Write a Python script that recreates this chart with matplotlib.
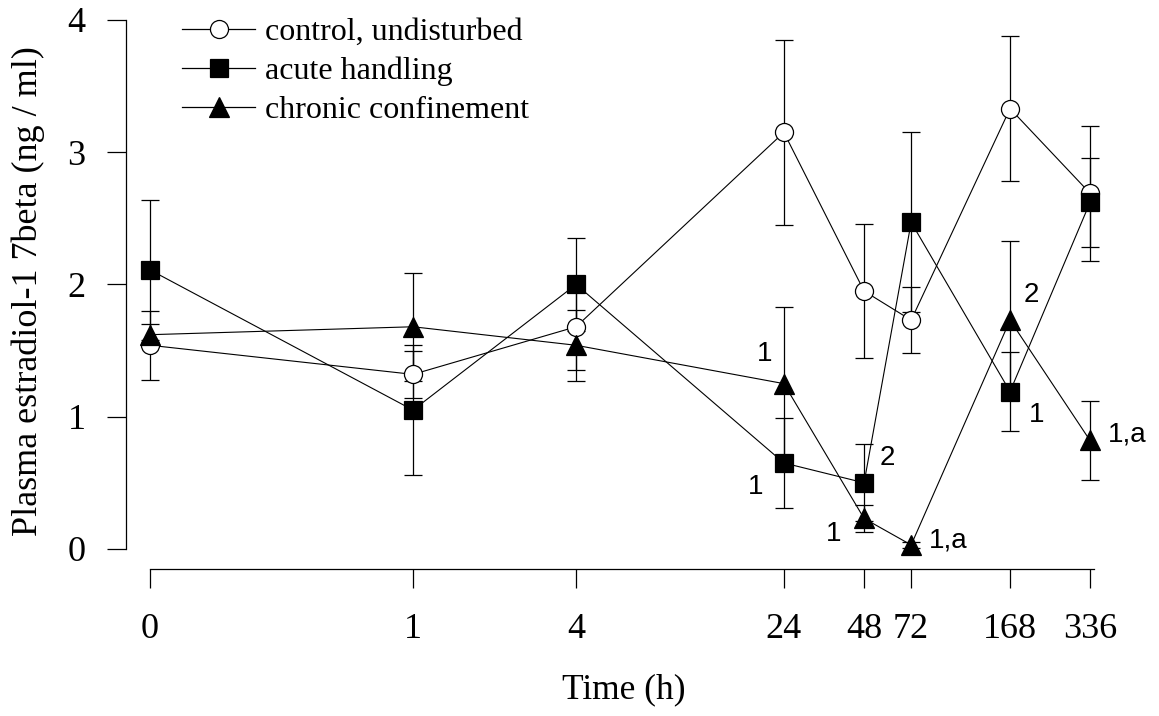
import matplotlib
matplotlib.use('Agg')
import matplotlib.pyplot as plt
from matplotlib.lines import Line2D

# x positions on the (non-linear) time axis
times = ['0', '1', '4', '24', '48', '72', '168', '336']
x_pos = [0, 1, 1.62, 2.41, 2.715, 2.894, 3.27, 3.574]

control = [1.54, 1.32, 1.68, 3.15, 1.95, 1.73, 3.33, 2.69]
control_se = [0.26, 0.18, 0.33, 0.70, 0.51, 0.25, 0.55, 0.51]
acute = [2.11, 1.05, 2.00, 0.65, 0.50, 2.47, 1.19, 2.62]
acute_se = [0.53, 0.49, 0.35, 0.34, 0.29, 0.68, 0.30, 0.34]
chronic = [1.62, 1.68, 1.54, 1.25, 0.23, 0.03, 1.73, 0.82]
chronic_se = [0.08, 0.41, 0.27, 0.58, 0.10, 0.02, 0.60, 0.30]

# significance labels: (series, time index, text, dx pt, dy pt, ha)
sig_labels = [
    ('chronic', 3, '1', -14, 21, 'center'),
    ('acute', 3, '1', -20, -17, 'center'),
    ('chronic', 4, '1', -22, -11, 'center'),
    ('acute', 4, '2', 17, 18, 'center'),
    ('chronic', 5, '1,a', 13, 3, 'left'),
    ('chronic', 6, '2', 15, 18, 'center'),
    ('acute', 6, '1', 19, -17, 'center'),
    ('chronic', 7, '1,a', 13, 4, 'left'),
]

plt.rcParams['font.family'] = 'Liberation Serif'

W, H = 1159, 716
fig = plt.figure(figsize=(W / 100, H / 100), dpi=100)
ax = fig.add_axes([126 / W, 1 - 569 / H, 974 / W, 549 / H])

series = {
    'control': (control, control_se, 'o', 'white', 'control, undisturbed'),
    'acute': (acute, acute_se, 's', 'black', 'acute handling'),
    'chronic': (chronic, chronic_se, '^', 'black', 'chronic confinement'),
}
handles = []
for key, (vals, se, mk, fc, lab) in series.items():
    ms = 14 if mk == '^' else 13
    ax.errorbar(x_pos, vals, yerr=se, color='black', lw=0.8, elinewidth=0.9,
                capsize=6.5, capthick=0.9, marker=mk, ms=ms,
                mfc=fc, mec='black', mew=0.9, clip_on=False, zorder=3)
    handles.append(Line2D([], [], color='black', lw=0.9, marker=mk, ms=ms,
                          mfc=fc, mec='black', mew=0.9, label=lab))

for key, i, txt, dx, dy, ha in sig_labels:
    y = series[key][0][i]
    ax.annotate(txt, (x_pos[i], y), xytext=(dx, dy), textcoords='offset points',
                ha=ha, va='center', fontsize=20, family='Liberation Sans')

ax.set_xlim(-0.0913, 3.612)
ax.set_ylim(-0.152, 4.0)
ax.spines['top'].set_visible(False)
ax.spines['right'].set_visible(False)
ax.spines['left'].set_bounds(0, 4)
ax.spines['bottom'].set_bounds(0, 3.59)
ax.set_yticks([0, 1, 2, 3, 4])
ax.set_xticks(x_pos)
ax.set_xticklabels(times)
ax.tick_params(axis='both', labelsize=26, width=0.9, length=14, colors='black')
ax.tick_params(axis='x', pad=18)
ax.tick_params(axis='y', pad=15)
for s in ax.spines.values():
    s.set_linewidth(0.9)

ax.set_ylabel('Plasma estradiol-1 7beta (ng / ml)', fontsize=26)
ax.yaxis.set_label_coords(-0.0832, 0.506)
fig.text(624 / W, 1 - 690 / H, 'Time (h)', ha='center', va='center', fontsize=25.5)

ax.legend(handles=handles, loc='upper left', bbox_to_anchor=(169 / W, 1 - 5 / H),
          bbox_transform=fig.transFigure, frameon=False, fontsize=23,
          handlelength=2.3, handletextpad=0.3, labelspacing=0.3, borderaxespad=0.0)

fig.savefig('out.png', dpi=100)
